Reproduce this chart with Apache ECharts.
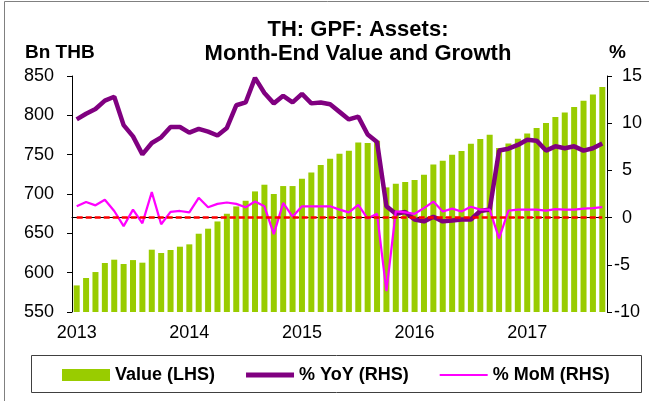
<!DOCTYPE html>
<html>
<head>
<meta charset="utf-8">
<script src="https://cdn.jsdelivr.net/npm/echarts@6/dist/echarts.min.js"></script>
<style>
  html, body { margin: 0; padding: 0; background: #fff; }
  #gpfChart { width: 649px; height: 401px; }
</style>
</head>
<body>
<div id="gpfChart"></div>
<script>
// meses ene-2013 .. sep-2017
const months = [
    '2013-01','2013-02','2013-03','2013-04','2013-05','2013-06','2013-07','2013-08','2013-09','2013-10','2013-11','2013-12',
    '2014-01','2014-02','2014-03','2014-04','2014-05','2014-06','2014-07','2014-08','2014-09','2014-10','2014-11','2014-12',
    '2015-01','2015-02','2015-03','2015-04','2015-05','2015-06','2015-07','2015-08','2015-09','2015-10','2015-11','2015-12',
    '2016-01','2016-02','2016-03','2016-04','2016-05','2016-06','2016-07','2016-08','2016-09','2016-10','2016-11','2016-12',
    '2017-01','2017-02','2017-03','2017-04','2017-05','2017-06','2017-07','2017-08','2017-09'
];

// Bn THB (LHS)
const assetValue = [
    583.8, 593.2, 600.8, 612.3, 616.5, 611.0, 616.0, 612.7, 629.2, 625.0, 628.8, 633.0,
    636.0, 649.5, 655.9, 665.1, 674.9, 684.2, 691.4, 703.3, 711.8, 700.0, 710.1, 710.1,
    719.4, 727.4, 736.8, 744.8, 751.2, 755.0, 765.6, 764.8, 767.7, 708.4, 713.1, 715.2,
    717.8, 724.5, 737.6, 742.3, 750.0, 754.6, 763.9, 769.9, 775.4, 758.4, 764.3, 770.3,
    777.0, 783.9, 790.2, 797.8, 803.7, 810.6, 818.6, 826.6, 836.0
];

// % YoY (RHS)
const yoyGrowth = [
    10.4, 11.0, 11.5, 12.4, 12.8, 9.8, 8.6, 6.7, 7.9, 8.5, 9.6, 9.6,
    9.0, 9.4, 9.1, 8.7, 9.5, 11.9, 12.2, 14.8, 13.2, 12.1, 12.9, 12.2,
    13.1, 12.1, 12.2, 12.0, 11.2, 10.4, 10.7, 8.8, 8.0, 1.2, 0.4, 0.6,
    -0.2, -0.4, 0.1, -0.4, -0.3, -0.2, -0.2, 0.7, 0.85, 7.1, 7.3, 7.7,
    8.25, 8.15, 7.1, 7.55, 7.35, 7.55, 7.1, 7.35, 7.85
];

// % MoM (RHS)
const momGrowth = [
    1.2, 1.65, 1.3, 1.9, 0.7, -0.9, 0.85, -0.6, 2.7, -0.7, 0.6, 0.7,
    0.55, 2.1, 1.1, 1.45, 1.6, 1.45, 1.1, 1.7, 1.2, -1.75, 1.55, 0.1,
    1.2, 1.2, 1.2, 1.2, 0.85, 0.55, 1.35, -0.1, 0.4, -7.8, 0.65, 0.55,
    0.4, 1.0, 1.7, 0.65, 0.95, 0.65, 1.15, 0.85, 0.85, -2.2, 0.75, 0.85,
    0.85, 0.85, 0.75, 0.9, 0.85, 0.85, 0.95, 1.0, 1.1
];

const seriesNames = ['Value (LHS)', '% YoY (RHS)', '% MoM (RHS)'];
const FONT = "'Liberation Sans', Arial, sans-serif";

const chart = echarts.init(document.getElementById('gpfChart'));

const option = {
    animation: false,
    backgroundColor: '#fff',
    title: {
        text: 'TH: GPF: Assets:\nMonth-End Value and Growth',
        left: 353,
        top: 13,
        textAlign: 'center',
        textStyle: { fontFamily: FONT, fontSize: 22, fontWeight: 'bold', color: '#000', lineHeight: 24 }
    },
    graphic: [
        { type: 'rect', shape: { x: 4.5, y: 1.5, width: 700, height: 500 }, style: { fill: 'none', stroke: '#808080', lineWidth: 1 }, silent: true },
        { type: 'rect', shape: { x: 31.5, y: 355.5, width: 610, height: 37 }, style: { fill: '#fff', stroke: '#404040', lineWidth: 1 }, silent: true, z: -1 },
        { type: 'text', left: 25, top: 43, style: { text: 'Bn THB', font: 'bold 19px ' + FONT, fill: '#000' } },
        { type: 'text', left: 609, top: 43, style: { text: '%', font: 'bold 19px ' + FONT, fill: '#000' } }
    ],
    legend: {
        data: [
            { name: seriesNames[0], icon: 'rect' },
            { name: seriesNames[1], icon: 'path://M0,0H48V5H0Z' },
            { name: seriesNames[2], icon: 'path://M0,0H48V2H0Z' }
        ],
        left: 57,
        top: 361,
        itemWidth: 48,
        itemHeight: 12,
        itemGap: 31,
        textStyle: { fontFamily: FONT, fontSize: 18, fontWeight: 'bold', color: '#000' }
    },
    grid: { left: 72, right: 42, top: 76, height: 236 },
    xAxis: {
        type: 'category',
        data: months,
        boundaryGap: true,
        axisLine: { lineStyle: { color: '#000', width: 1 } },
        axisTick: { length: 5, lineStyle: { color: '#000' }, interval: (i) => i % 12 === 0 },
        axisLabel: {
            interval: (i) => i % 12 === 0,
            formatter: (v) => v.slice(0, 4),
            margin: 12,
            fontFamily: FONT, fontSize: 18, color: '#000'
        },
        splitLine: { show: false }
    },
    yAxis: [
        {
            type: 'value',
            min: 550, max: 850, interval: 50,
            axisLine: { show: true, lineStyle: { color: '#000' } },
            axisTick: { show: true, length: 5, lineStyle: { color: '#000' } },
            axisLabel: { margin: 18, fontFamily: FONT, fontSize: 18, color: '#000' },
            splitLine: { show: false }
        },
        {
            type: 'value',
            min: -10, max: 15, interval: 5,
            position: 'right',
            axisLine: { show: true, lineStyle: { color: '#000' } },
            axisTick: { show: true, length: 5, lineStyle: { color: '#000' } },
            axisLabel: {
                margin: 7,
                align: 'left',
                formatter: (v) => v < 0 ? '{n|' + v + '}' : '{p|' + v + '}',
                rich: {
                    p: { fontFamily: FONT, fontSize: 18, color: '#000', padding: [0, 0, 0, 8] },
                    n: { fontFamily: FONT, fontSize: 18, color: '#000' }
                }
            },
            splitLine: { show: false }
        }
    ],
    series: [
        {
            name: seriesNames[0],
            type: 'bar',
            yAxisIndex: 0,
            barWidth: 6,
            itemStyle: { color: '#99CC00' },
            z: 1,
            data: assetValue
        },
        {
            name: seriesNames[1],
            type: 'line',
            yAxisIndex: 1,
            symbol: 'none',
            lineStyle: { width: 4.5, color: '#800080' },
            itemStyle: { color: '#800080' },
            z: 3,
            data: yoyGrowth
        },
        {
            name: seriesNames[2],
            type: 'line',
            yAxisIndex: 1,
            symbol: 'none',
            lineStyle: { width: 2.25, color: '#FF00FF' },
            itemStyle: { color: '#FF00FF' },
            z: 4,
            data: momGrowth,
            markLine: {
                silent: true,
                symbol: 'none',
                label: { show: false },
                lineStyle: { color: '#FF0000', type: [6, 3], width: 2.5 },
                data: [[
                    { coord: [months[0], 0] },
                    { coord: [months[months.length - 1], 0] }
                ]]
            }
        }
    ]
};

chart.setOption(option);
</script>
</body>
</html>
